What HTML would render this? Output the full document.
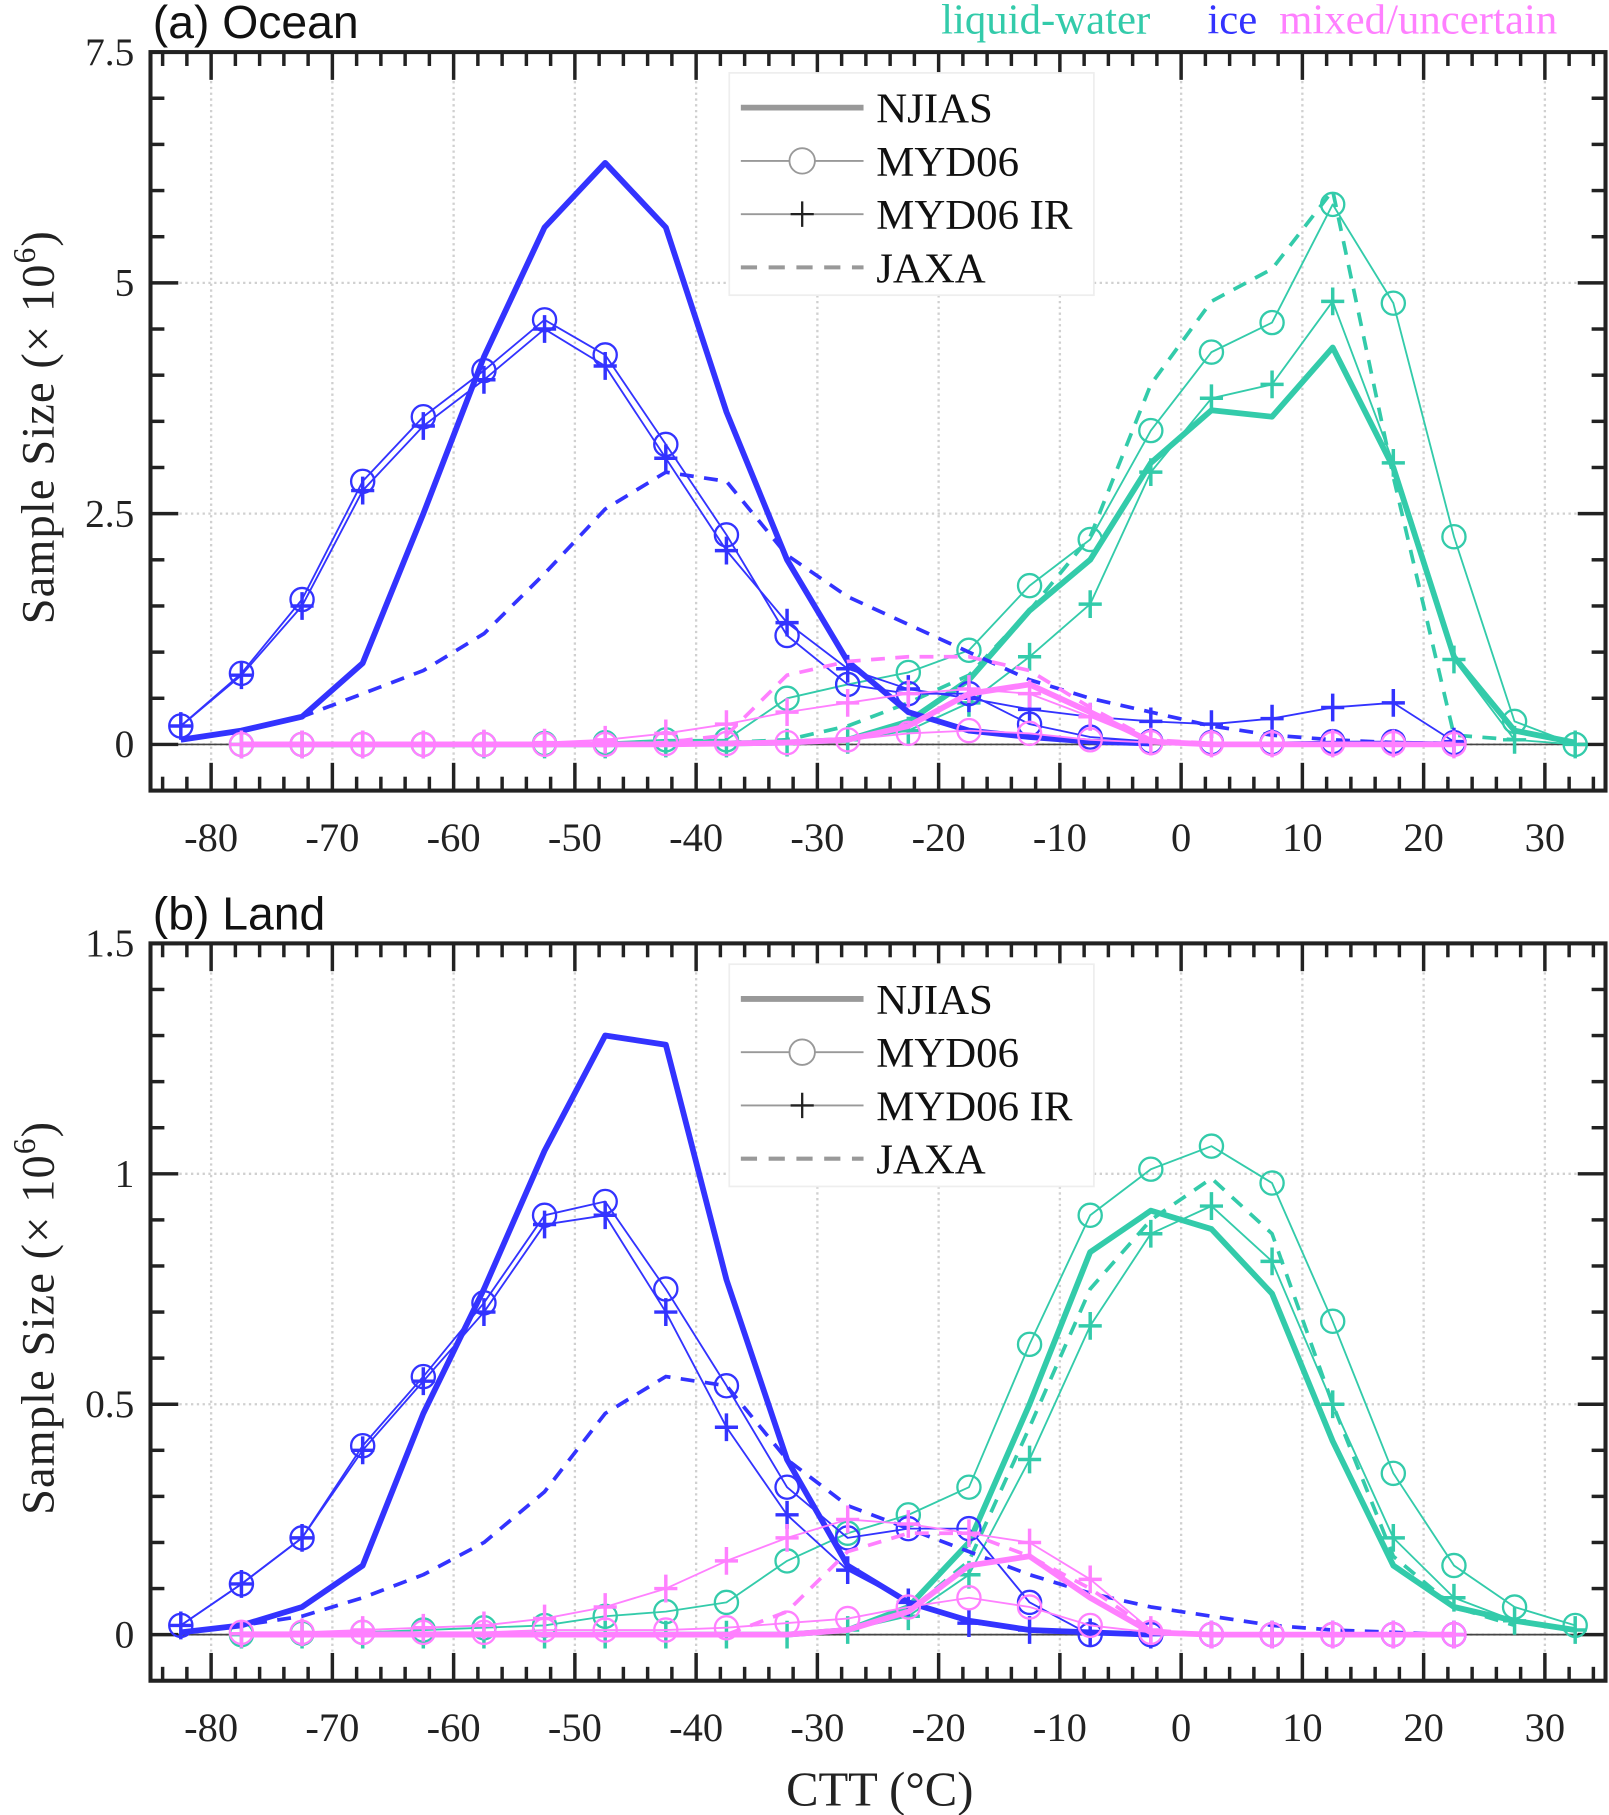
<!DOCTYPE html>
<html><head><meta charset="utf-8">
<style>
html,body{margin:0;padding:0;background:#fff;}
svg{display:block;}
</style></head>
<body>
<svg id="fig" xmlns="http://www.w3.org/2000/svg" width="1609" height="1815" viewBox="0 0 1390 1568"></svg>
<script>
// ---- data ----
const bins = [-82.5,-77.5,-72.5,-67.5,-62.5,-57.5,-52.5,-47.5,-42.5,-37.5,-32.5,-27.5,-22.5,-17.5,-12.5,-7.5,-2.5,2.5,7.5,12.5,17.5,22.5,27.5,32.5];
const xTicks = [-80,-70,-60,-50,-40,-30,-20,-10,0,10,20,30];
const oceanYTicks = [0,2.5,5,7.5];
const oceanYLabels = ["0","2.5","5","7.5"];
const landYTicks = [0,0.5,1,1.5];
const landYLabels = ["0","0.5","1","1.5"];
const N = null;
// Ocean
const oIceNjias = [0.05,0.15,0.3,0.88,2.5,4.2,5.6,6.3,5.6,3.6,2.0,0.9,0.35,0.15,0.08,0.03,0.01,N,N,N,N,N,N,N];
const oIceMyd = [0.2,0.77,1.57,2.85,3.55,4.05,4.6,4.22,3.25,2.27,1.18,0.65,0.55,0.55,0.22,0.08,0.03,0.02,0.02,0.03,0.03,0.02,N,N];
const oIceIr = [0.2,0.75,1.5,2.75,3.45,3.95,4.5,4.1,3.1,2.1,1.32,0.82,0.6,0.5,0.38,0.3,0.25,0.22,0.28,0.4,0.45,0.03,N,N];
const oIceJaxa = [0.05,0.15,0.3,0.55,0.8,1.2,1.85,2.55,2.95,2.85,2.05,1.6,1.3,1.0,0.7,0.5,0.35,0.2,0.1,0.05,0.02,0.01,N,N];
const oLiqNjias = [N,0,0,0,0,0,0,0,0.01,0.01,0.02,0.05,0.25,0.7,1.45,2.0,3.05,3.62,3.55,4.3,3.0,0.95,0.15,0.02];
const oLiqMyd = [N,0,0,0,0,0,0.01,0.02,0.05,0.05,0.5,0.65,0.78,1.02,1.72,2.22,3.4,4.25,4.57,5.85,4.78,2.25,0.25,0.0];
const oLiqIr = [N,0,0,0,0,0,0,0,0.01,0.01,0.02,0.05,0.15,0.45,0.95,1.52,2.95,3.75,3.9,4.8,3.05,0.92,0.05,0.0];
const oLiqJaxa = [N,0,0,0,0,0,0,0,0.01,0.02,0.05,0.2,0.45,0.75,1.45,2.25,3.9,4.8,5.15,6.0,2.9,0.1,0.05,N];
const oMixNjias = [N,0,0,0,0,0,0,0,0,0.01,0.02,0.05,0.2,0.55,0.65,0.35,0.03,0,0,0,0,0,N,N];
const oMixMyd = [N,0,0,0,0,0,0,0,0.01,0.01,0.02,0.05,0.12,0.15,0.12,0.05,0.02,0.01,0.01,0.01,0.01,0,N,N];
const oMixIr = [N,0,0,0,0,0.01,0.02,0.05,0.12,0.22,0.35,0.45,0.55,0.6,0.55,0.3,0.03,0.01,0.01,0.01,0.01,0,N,N];
const oMixJaxa = [N,0,0,0,0,0,0,0,0.02,0.1,0.75,0.9,0.95,0.95,0.8,0.4,0.05,0.01,0,0,0,0,N,N];
// Land
const lIceNjias = [0.005,0.02,0.06,0.15,0.48,0.75,1.05,1.3,1.28,0.77,0.38,0.15,0.07,0.03,0.01,0.005,0,N,N,N,N,N,N,N];
const lIceMyd = [0.02,0.11,0.21,0.41,0.56,0.72,0.91,0.94,0.75,0.54,0.32,0.21,0.23,0.23,0.07,0.0,0.0,0,0,0,0,0,N,N];
const lIceIr = [0.02,0.11,0.21,0.4,0.55,0.7,0.89,0.91,0.7,0.45,0.26,0.14,0.07,0.025,0.01,0.005,0,0,0,0,0,0,N,N];
const lIceJaxa = [0.005,0.02,0.04,0.08,0.13,0.2,0.31,0.48,0.56,0.54,0.38,0.28,0.23,0.18,0.13,0.09,0.06,0.04,0.02,0.01,0.005,0,N,N];
const lLiqNjias = [N,0,0,0,0,0,0,0,0,0,0,0.01,0.06,0.2,0.5,0.83,0.92,0.88,0.74,0.42,0.15,0.06,0.03,0.01];
const lLiqMyd = [N,0,0.003,0.005,0.01,0.015,0.02,0.04,0.05,0.07,0.16,0.22,0.26,0.32,0.63,0.91,1.01,1.06,0.98,0.68,0.35,0.15,0.06,0.02];
const lLiqIr = [N,0,0,0,0,0,0,0,0,0,0,0.01,0.04,0.13,0.38,0.67,0.87,0.93,0.81,0.5,0.21,0.08,0.03,0.01];
const lLiqJaxa = [N,0,0,0,0,0,0,0,0,0,0,0.01,0.05,0.16,0.45,0.75,0.9,0.99,0.87,0.5,0.17,0.06,0.02,N];
const lMixNjias = [N,0,0,0,0,0,0,0,0,0,0,0.01,0.05,0.15,0.17,0.08,0.005,0,0,0,0,0,N,N];
const lMixMyd = [N,0.005,0.005,0.005,0.005,0.005,0.01,0.01,0.01,0.015,0.025,0.035,0.06,0.08,0.06,0.02,0.005,0,0,0,0,0,N,N];
const lMixIr = [N,0.002,0.005,0.01,0.015,0.02,0.035,0.06,0.1,0.16,0.21,0.25,0.24,0.22,0.2,0.12,0.01,0,0,0,0,0,N,N];
const lMixJaxa = [N,0,0,0,0,0,0,0,0,0,0.05,0.18,0.22,0.22,0.17,0.1,0.01,0,0,0,0,0,N,N];

const BLUE = "#3333ff", TEAL = "#33cbaa", PINK = "#ff80ff";
const NS = "http://www.w3.org/2000/svg";
const svg = document.getElementById('fig');
function mk(tag, attrs, parent) {
  const e = document.createElementNS(NS, tag);
  for (const k in attrs) e.setAttribute(k, attrs[k]);
  (parent || svg).appendChild(e);
  return e;
}

function panel(cfg) {
  const L = 130, R = 1387, T = cfg.top, B = cfg.bottom;
  const xmin = -85, xmax = 35;
  const xs = v => L + (v - xmin) / (xmax - xmin) * (R - L);
  const ys = v => B - (v - cfg.ymin) / (cfg.ymax - cfg.ymin) * (B - T);
  const g = mk('g', {});
  
  
  xTicks.forEach(t => {
    const l = mk('line', {x1: xs(t), x2: xs(t), y1: T, y2: B, stroke: '#d0d0d0', 'stroke-width': 2, 'stroke-dasharray': '2 3'}, g);
    
    
  });
  cfg.yTicks.forEach(t => {
    const l = mk('line', {x1: L, x2: R, y1: ys(t), y2: ys(t), stroke: '#d0d0d0', 'stroke-width': 2, 'stroke-dasharray': '2 3'}, g);
    
    
  });
  mk('line', {x1: L, x2: R, y1: ys(0), y2: ys(0), stroke: '#444', 'stroke-width': 1.5}, g);
  for (let v = -84; v <= 34; v += 2) {
    const major = v % 10 === 0;
    const len = major ? 24 : 12;
    mk('line', {x1: xs(v), x2: xs(v), y1: B, y2: B - len, stroke: '#222', 'stroke-width': 3}, g);
    mk('line', {x1: xs(v), x2: xs(v), y1: T, y2: T + len, stroke: '#222', 'stroke-width': 3}, g);
  }
  for (let v = cfg.ymin + cfg.minor; v < cfg.ymax + 1e-9; v += cfg.minor) {
    const vv = Math.round(v / cfg.minor) * cfg.minor;
    const major = cfg.yTicks.some(t => Math.abs(t - vv) < 1e-6);
    const len = major ? 24 : 12;
    mk('line', {x1: L, x2: L + len, y1: ys(vv), y2: ys(vv), stroke: '#222', 'stroke-width': 3}, g);
    mk('line', {x1: R, x2: R - len, y1: ys(vv), y2: ys(vv), stroke: '#222', 'stroke-width': 3}, g);
  }
  function series(vals, color, style, label) {
    const sg = mk('g', {}, g);
    
    
    let d = '';
    let started = false;
    vals.forEach((v, i) => {
      if (v === null) { started = false; return; }
      d += (started ? 'L' : 'M') + xs(bins[i]).toFixed(1) + ' ' + ys(v).toFixed(1);
      started = true;
    });
    const a = {d: d, fill: 'none', stroke: color, 'stroke-linejoin': 'round'};
    if (style === 'njias') a['stroke-width'] = 5;
    else if (style === 'jaxa') { a['stroke-width'] = 3.2; a['stroke-dasharray'] = '12 9'; }
    else a['stroke-width'] = 1.6;
    const p = mk('path', a, sg);
    
    
    vals.forEach((v, i) => {
      if (v === null) return;
      const cx = xs(bins[i]), cy = ys(v);
      if (style === 'myd') {
        const c = mk('circle', {cx: cx, cy: cy, r: 10, fill: 'none', stroke: color, 'stroke-width': 2}, sg);
        
        
      } else if (style === 'ir') {
        const c = mk('path', {d: `M${cx-10} ${cy}H${cx+10}M${cx} ${cy-12}V${cy+12}`, stroke: color, 'stroke-width': 3, fill: 'none'}, sg);
        
        
      }
    });
  }
  const S = cfg.s;
  series(S.liqJaxa, TEAL, 'jaxa', cfg.name + '-liquid-jaxa');
  series(S.liqNjias, TEAL, 'njias', cfg.name + '-liquid-njias');
  series(S.liqMyd, TEAL, 'myd', cfg.name + '-liquid-myd06');
  series(S.liqIr, TEAL, 'ir', cfg.name + '-liquid-myd06-ir');
  series(S.iceJaxa, BLUE, 'jaxa', cfg.name + '-ice-jaxa');
  series(S.iceNjias, BLUE, 'njias', cfg.name + '-ice-njias');
  series(S.iceMyd, BLUE, 'myd', cfg.name + '-ice-myd06');
  series(S.iceIr, BLUE, 'ir', cfg.name + '-ice-myd06-ir');
  series(S.mixJaxa, PINK, 'jaxa', cfg.name + '-mixed-jaxa');
  series(S.mixNjias, PINK, 'njias', cfg.name + '-mixed-njias');
  series(S.mixMyd, PINK, 'myd', cfg.name + '-mixed-myd06');
  series(S.mixIr, PINK, 'ir', cfg.name + '-mixed-myd06-ir');
  const f = mk('rect', {x: L, y: T, width: R - L, height: B - T, fill: 'none', stroke: '#222', 'stroke-width': 3.5}, g);
  
  
  xTicks.forEach(t => {
    const tx = mk('text', {x: xs(t), y: B + 52, 'text-anchor': 'middle', 'font-family': 'Liberation Serif, serif', 'font-size': 35, fill: '#222'}, g);
    tx.textContent = t;
    
    
  });
  cfg.yTicks.forEach((t, i) => {
    const tx = mk('text', {x: 116, y: ys(t) + 11, 'text-anchor': 'end', 'font-family': 'Liberation Serif, serif', 'font-size': 34, fill: '#222'}, g);
    tx.textContent = cfg.yLabels[i];
    
    
  });
  const cy = (T + B) / 2 + 5;
  const yt = mk('text', {x: 0, y: 0, transform: `translate(46 ${cy}) rotate(-90)`, 'text-anchor': 'middle', 'font-family': 'Liberation Serif, serif', 'font-size': 40, fill: '#222', 'letter-spacing': 1}, g);
  yt.innerHTML = 'Sample Size (× 10<tspan dy="-16" font-size="27">6</tspan><tspan dy="16">)</tspan>';
  
  
  const tt = mk('text', {x: 132, y: T - 12, 'font-family': 'Liberation Sans, sans-serif', 'font-size': 40, fill: '#111'}, g);
  tt.textContent = cfg.title;
  
  
  const ly = T + 18;
  const lg = mk('g', {}, g);
  
  
  mk('rect', {x: 630, y: ly, width: 315, height: 192, fill: '#fff', stroke: '#eee', 'stroke-width': 1.5}, lg);
  const items = [['NJIAS', 'njias'], ['MYD06', 'myd'], ['MYD06 IR', 'ir'], ['JAXA', 'jaxa']];
  items.forEach((it, i) => {
    const yy = ly + 30 + i * 46;
    const e = mk('g', {}, lg);
    
    
    const a = {x1: 640, x2: 746, y1: yy, y2: yy, stroke: '#999'};
    if (it[1] === 'njias') a['stroke-width'] = 5;
    else if (it[1] === 'jaxa') { a['stroke-width'] = 3.5; a['stroke-dasharray'] = '14 10'; }
    else a['stroke-width'] = 1.6;
    mk('line', a, e);
    if (it[1] === 'myd') mk('circle', {cx: 693, cy: yy, r: 11, fill: '#fff', stroke: '#999', 'stroke-width': 1.6}, e);
    if (it[1] === 'ir') mk('path', {d: `M683 ${yy}H703M693 ${yy-11}V${yy+11}`, stroke: '#222', 'stroke-width': 2}, e);
    const t = mk('text', {x: 757, y: yy + 13, 'font-family': 'Liberation Serif, serif', 'font-size': 37, fill: '#111', 'textLength': 0}, e);
    t.removeAttribute('textLength');
    t.textContent = it[0];
  });
}

panel({name: 'ocean', title: '(a) Ocean', top: 45, bottom: 683, ymin: -0.5, ymax: 7.5, minor: 0.5,
  yTicks: oceanYTicks, yLabels: oceanYLabels,
  s: {iceNjias: oIceNjias, iceMyd: oIceMyd, iceIr: oIceIr, iceJaxa: oIceJaxa,
      liqNjias: oLiqNjias, liqMyd: oLiqMyd, liqIr: oLiqIr, liqJaxa: oLiqJaxa,
      mixNjias: oMixNjias, mixMyd: oMixMyd, mixIr: oMixIr, mixJaxa: oMixJaxa}});
panel({name: 'land', title: '(b) Land', top: 815, bottom: 1452, ymin: -0.1, ymax: 1.5, minor: 0.1,
  yTicks: landYTicks, yLabels: landYLabels,
  s: {iceNjias: lIceNjias, iceMyd: lIceMyd, iceIr: lIceIr, iceJaxa: lIceJaxa,
      liqNjias: lLiqNjias, liqMyd: lLiqMyd, liqIr: lLiqIr, liqJaxa: lLiqJaxa,
      mixNjias: lMixNjias, mixMyd: lMixMyd, mixIr: lMixIr, mixJaxa: lMixJaxa}});

[['liquid-water', TEAL, 813, 'liquid-water-label'], ['ice', BLUE, 1043, 'ice-label'], ['mixed/uncertain', PINK, 1105, 'mixed-label']].forEach(p => {
  const t = mk('text', {x: p[2], y: 29, 'font-family': 'Liberation Serif, serif', 'font-size': 37, fill: p[1]});
  t.textContent = p[0];
  
  
});
const xt = mk('text', {x: 760, y: 1560, 'text-anchor': 'middle', 'font-family': 'Liberation Serif, serif', 'font-size': 42, fill: '#222'});
xt.textContent = 'CTT (°C)';


</script>
</body></html>
